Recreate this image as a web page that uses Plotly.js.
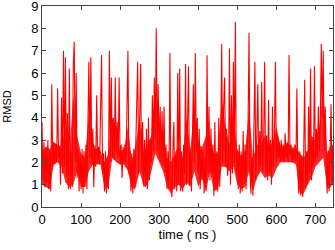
<!DOCTYPE html>
<html><head><meta charset="utf-8">
<script src="https://cdn.plot.ly/plotly-3.0.1.min.js"></script>
<style>html,body{margin:0;padding:0;background:#fff}#c{width:335px;height:250px}</style>
</head><body><div id="c"></div>
<script>
const stepNs = 2.5;
const rmsd = [
 3.8,1.2,2.9,0.9,2.7,1.1,3.0,0.8,2.5,0.7,
 5.5,1.8,2.9,1.9,2.8,2.0,5.3,2.2,2.7,1.0,
 4.9,1.5,7.0,1.8,6.7,1.4,4.2,0.8,6.2,0.8,
 2.5,0.9,6.3,7.4,2.0,6.0,1.3,2.6,0.7,2.4,
 0.8,2.6,0.6,2.5,0.9,2.8,0.8,4.0,6.5,2.2,
 6.7,1.9,3.5,0.9,2.6,1.8,5.0,2.0,2.7,1.9,
 4.0,6.8,1.5,2.4,0.7,2.5,0.6,2.2,0.8,7.0,
 2.0,5.8,2.2,4.0,2.1,5.8,2.5,3.8,2.2,5.8,
 1.9,2.8,1.3,2.7,2.0,2.8,1.8,5.0,7.0,1.5,
 2.5,0.7,2.4,0.6,2.6,0.8,2.8,4.0,6.5,1.5,
 3.5,6.4,1.5,3.8,1.0,3.0,0.9,3.5,0.8,4.0,
 1.2,3.0,2.0,5.0,2.5,5.8,3.0,8.0,2.5,5.5,
 2.2,4.5,2.0,4.3,1.8,4.5,1.5,2.8,0.8,2.5,
 0.8,6.9,1.0,0.45,2.5,3.8,0.8,2.3,0.7,6.0,
 1.0,6.2,0.7,2.5,0.7,2.8,1.5,6.4,1.0,4.0,
 6.3,1.0,2.5,0.7,2.8,5.5,2.0,6.9,2.5,4.0,
 1.5,3.5,0.8,2.6,1.2,2.5,0.6,2.2,0.7,6.8,
 1.5,4.5,1.2,3.5,1.5,2.8,0.5,3.8,0.8,2.5,
 0.7,4.0,0.9,2.6,7.3,2.0,4.5,5.8,1.8,3.5,
 1.4,2.0,7.1,1.0,5.0,1.5,6.5,2.0,8.3,1.5,
 2.5,0.8,2.8,0.6,2.5,0.7,3.4,1.0,2.8,0.8,
 2.5,3.5,7.8,1.5,0.6,2.2,0.5,3.0,6.5,1.2,
 3.2,5.5,1.5,3.4,1.8,5.6,1.5,3.0,6.5,1.5,
 3.2,1.2,4.8,1.5,3.0,1.0,4.5,1.8,3.2,6.5,
 2.0,3.2,2.2,2.9,2.0,3.0,2.1,2.8,2.0,3.3,
 2.2,2.9,2.0,6.8,2.3,2.8,2.0,2.7,2.1,2.8,
 2.0,5.3,1.5,0.6,2.5,0.5,2.3,0.45,2.4,5.7,
 0.8,2.5,1.0,4.5,1.5,6.2,1.2,3.0,1.8,6.3,
 2.0,3.5,2.2,4.5,2.5,3.8,7.3,4.0,7.0,2.5,
 4.5,1.5,0.6,2.5,0.7,2.4,4.6,1.0,2.8
];
// dense core of the trace (where the red is solid), read every 10 ns
const coreTime = [0,10,20,30,40,50,60,70,80,90,100,110,120,130,140,150,160,170,180,190,
  200,210,220,230,240,250,260,270,280,290,300,310,320,330,340,350,360,370,380,390,
  400,410,420,430,440,450,460,470,480,490,500,510,520,530,540,550,560,570,580,590,
  600,610,620,630,640,650,660,670,680,690,700,710,720,730,740,745];
const coreLo = [1.0,0.9,0.8,1.9,2.0,1.8,1.1,0.9,1.0,1.6,0.9,0.9,1.6,1.9,1.9,1.9,0.8,0.9,2.2,2.0,
  1.9,1.9,1.6,0.8,0.9,1.6,0.9,1.0,1.6,2.4,2.0,1.6,0.9,0.6,0.9,1.0,0.8,1.1,0.9,1.6,
  0.9,1.3,0.7,1.6,0.7,0.8,1.8,1.8,1.6,1.8,1.0,0.8,0.9,1.6,0.7,1.3,1.6,1.3,1.4,1.3,
  1.7,2.0,2.0,2.0,2.0,1.9,0.6,0.6,1.0,1.3,1.8,2.0,2.2,0.8,0.9,1.1];
const coreHi = [2.5,2.7,2.6,2.9,2.8,2.7,3.6,2.4,5.0,3.2,2.4,2.2,4.2,2.9,2.6,2.5,2.0,2.4,4.0,3.6,
  2.5,2.6,3.6,2.1,2.8,4.0,2.4,2.8,3.2,5.2,3.6,3.2,2.2,2.0,2.4,2.8,2.2,4.0,2.6,4.4,
  2.8,2.7,3.2,3.2,2.4,2.4,4.8,3.6,2.8,4.0,2.6,2.3,2.5,4.4,2.2,2.8,2.8,3.2,2.8,2.8,
  3.6,2.8,2.7,2.9,2.6,2.7,2.4,2.2,2.5,3.2,3.0,3.6,5.2,2.4,2.8,2.7];

const time = rmsd.map((_, i) => i * stepNs);
const xTicks = [0,100,200,300,400,500,600,700];
const yTicks = [0,1,2,3,4,5,6,7,8,9];
const fnt = 'Liberation Sans, Arial, sans-serif';

const ax = {
  showline: true, linecolor: '#444', linewidth: 1, mirror: 'ticks',
  ticks: 'inside', ticklen: 4, tickcolor: '#444', showgrid: false, zeroline: false,
  ticklabeloverflow: 'allow',
  tickfont: {family: fnt, size: 13, color: '#000'}
};
Plotly.newPlot('c', [
  {x: coreTime, y: coreLo, type: 'scatter', mode: 'lines', line: {color: 'rgba(255,0,0,0.85)', width: 0}, hoverinfo: 'none'},
  {x: coreTime, y: coreHi, type: 'scatter', mode: 'lines', fill: 'tonexty', fillcolor: 'rgba(255,0,0,0.85)',
   line: {color: 'rgba(255,0,0,0.85)', width: 0}, hoverinfo: 'none'},
  {x: time, y: rmsd, type: 'scatter', mode: 'lines',
   line: {color: '#ff0000', width: 1.1}, hoverinfo: 'none'}
], {
  width: 335, height: 250,
  margin: {l: 41.5, r: 2, t: 6, b: 43},
  paper_bgcolor: '#fff', plot_bgcolor: '#fff', showlegend: false,
  xaxis: Object.assign({}, ax, {range: [0, 745], tickvals: xTicks, ticktext: xTicks.map(String),
    title: {text: 'time ( ns )', font: {family: fnt, size: 13, color: '#000'}, standoff: 4}}),
  yaxis: Object.assign({}, ax, {range: [0, 9], tickvals: yTicks, ticktext: yTicks.map(String),
    title: {text: 'RMSD', font: {family: fnt, size: 11, color: '#000'}, standoff: 17}})
}, {staticPlot: true});
</script></body></html>
